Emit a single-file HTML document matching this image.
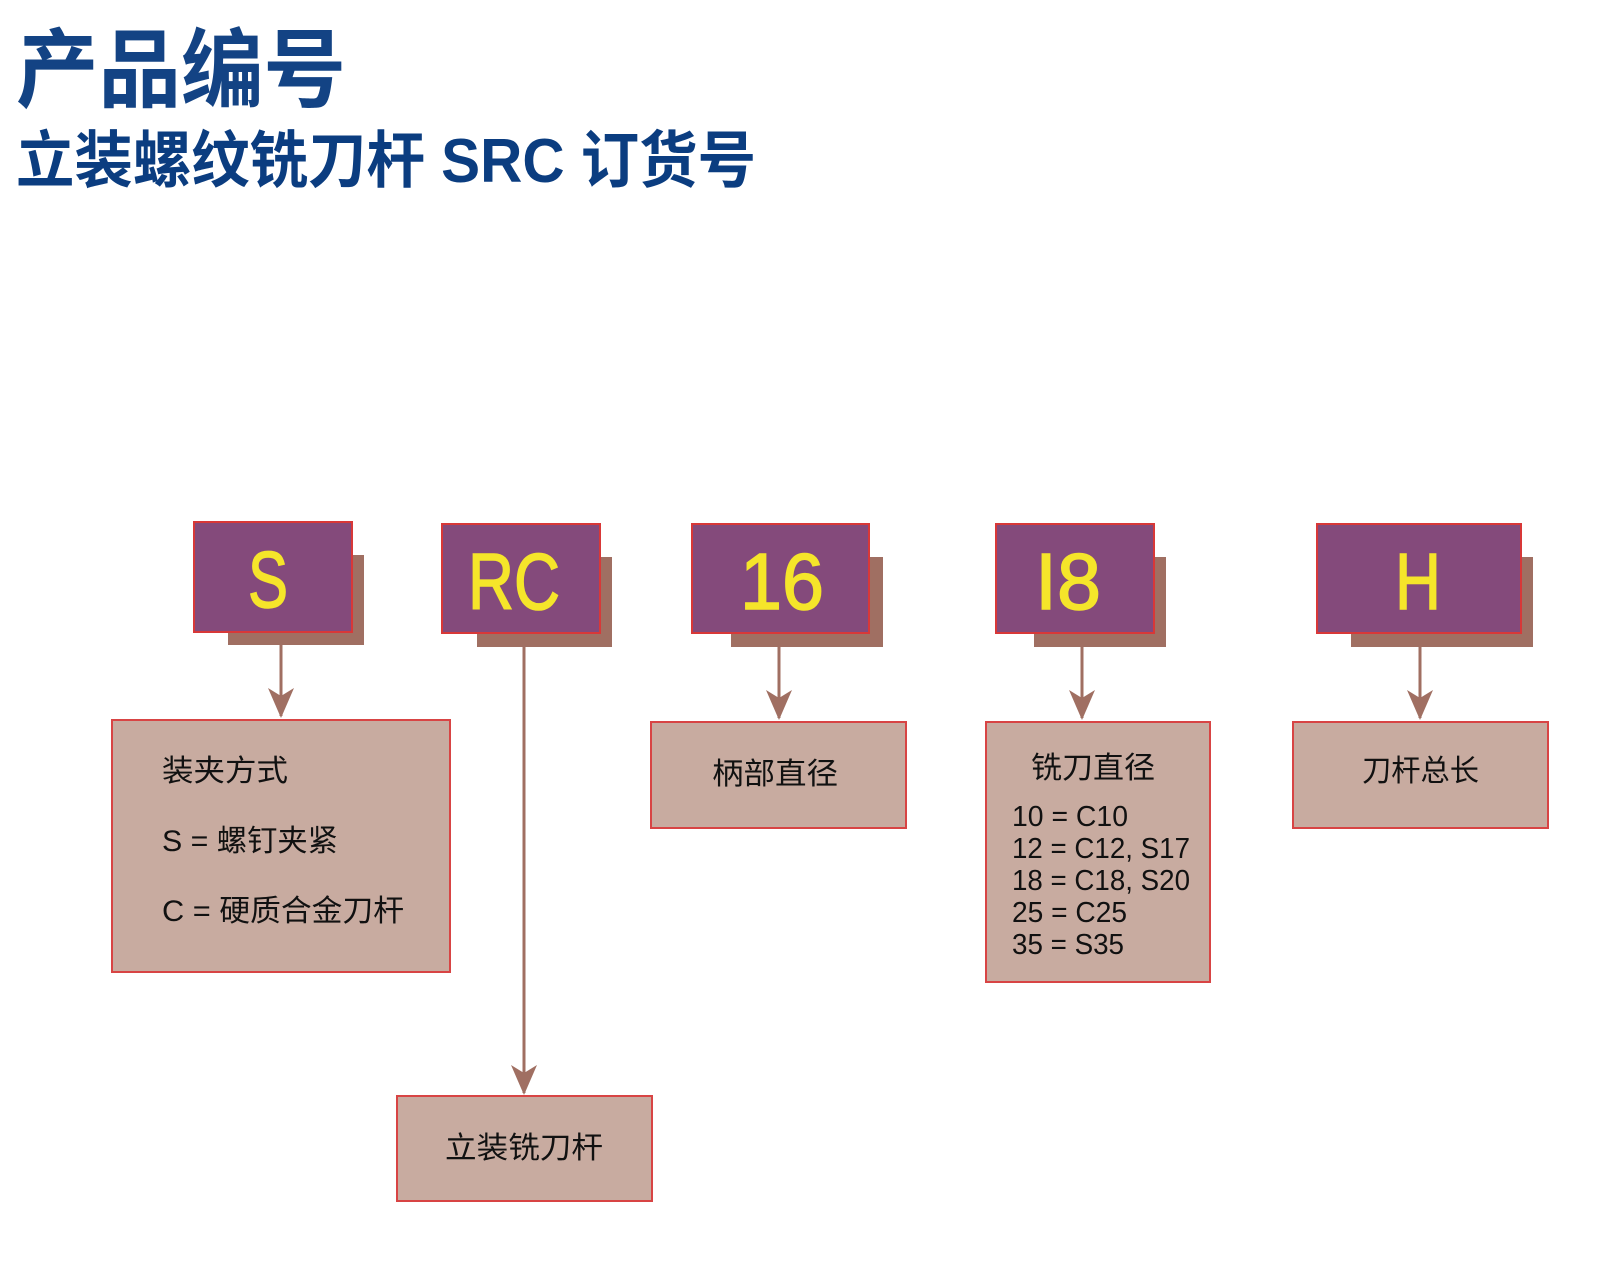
<!DOCTYPE html>
<html><head><meta charset="utf-8"><style>
html,body{margin:0;padding:0;background:#fff;}
svg{display:block;}
</style></head><body>
<svg width="1600" height="1262" viewBox="0 0 1600 1262" xmlns="http://www.w3.org/2000/svg">
<defs>
<marker id="ah" markerWidth="26" markerHeight="30" refX="13" refY="28" orient="0" markerUnits="userSpaceOnUse">
<path d="M0,0 L13,8 L26,0 L13,30 Z" fill="#a06f62"/>
</marker>
</defs>
<g fill="#0b3d80" font-weight="bold" font-family="Liberation Sans,Noto Sans CJK SC,sans-serif">
<text x="16" y="100" font-size="86" textLength="330" lengthAdjust="spacingAndGlyphs" fill-opacity="0.97">产品编号</text>
<text x="16" y="182" font-size="62" textLength="740" lengthAdjust="spacingAndGlyphs">立装螺纹铣刀杆 SRC 订货号</text>
</g>
<g fill="#a06f62">
<rect x="228" y="555" width="136" height="90"/>
<rect x="477" y="557" width="135" height="90"/>
<rect x="731" y="557" width="152" height="90"/>
<rect x="1034" y="557" width="132" height="90"/>
<rect x="1351" y="557" width="182" height="90"/>
</g>
<g fill="#844a7b" stroke="#d83838" stroke-width="2">
<rect x="194" y="522" width="158" height="110"/>
<rect x="442" y="524" width="158" height="109"/>
<rect x="692" y="524" width="177" height="109"/>
<rect x="996" y="524" width="158" height="109"/>
<rect x="1317" y="524" width="204" height="109"/>
</g>
<g fill="#f5e52a" stroke="#f5e52a" stroke-width="1.5" font-size="80" text-anchor="middle" font-family="Liberation Sans,sans-serif">
<text x="268" y="607" textLength="40" lengthAdjust="spacingAndGlyphs">S</text>
<text x="514" y="609" textLength="92" lengthAdjust="spacingAndGlyphs">RC</text>
<text x="782" y="609" textLength="84" lengthAdjust="spacingAndGlyphs">16</text>
<text x="1068" y="609" textLength="66" lengthAdjust="spacingAndGlyphs">I8</text>
<text x="1418" y="609" textLength="46" lengthAdjust="spacingAndGlyphs">H</text>
</g>
<g stroke="#a06f62" stroke-width="3" fill="none">
<line x1="281" y1="645" x2="281" y2="716" marker-end="url(#ah)"/>
<line x1="524" y1="647" x2="524" y2="1093" marker-end="url(#ah)"/>
<line x1="779" y1="647" x2="779" y2="718" marker-end="url(#ah)"/>
<line x1="1082" y1="647" x2="1082" y2="718" marker-end="url(#ah)"/>
<line x1="1420" y1="647" x2="1420" y2="718" marker-end="url(#ah)"/>
</g>
<g fill="#c8aba0" stroke="#d84444" stroke-width="2">
<rect x="112" y="720" width="338" height="252"/>
<rect x="397" y="1096" width="255" height="105"/>
<rect x="651" y="722" width="255" height="106"/>
<rect x="986" y="722" width="224" height="260"/>
<rect x="1293" y="722" width="255" height="106"/>
</g>
<g fill="#111" font-size="30" font-family="Liberation Sans,Noto Sans CJK SC,sans-serif">
<text x="162" y="781" textLength="126" lengthAdjust="spacingAndGlyphs">装夹方式</text>
<text x="162" y="851" textLength="176" lengthAdjust="spacingAndGlyphs">S = 螺钉夹紧</text>
<text x="162" y="921" textLength="242" lengthAdjust="spacingAndGlyphs">C = 硬质合金刀杆</text>
<text x="445" y="1158" textLength="158" lengthAdjust="spacingAndGlyphs">立装铣刀杆</text>
<text x="712" y="784" textLength="126" lengthAdjust="spacingAndGlyphs">柄部直径</text>
<text x="1031" y="778" textLength="124" lengthAdjust="spacingAndGlyphs">铣刀直径</text>
<text x="1362" y="781" textLength="117" lengthAdjust="spacingAndGlyphs">刀杆总长</text>
</g>
<g fill="#111" font-size="29" font-family="Liberation Sans,sans-serif">
<text x="1012" y="826" textLength="116" lengthAdjust="spacingAndGlyphs">10 = C10</text>
<text x="1012" y="858" textLength="178" lengthAdjust="spacingAndGlyphs">12 = C12, S17</text>
<text x="1012" y="890" textLength="178" lengthAdjust="spacingAndGlyphs">18 = C18, S20</text>
<text x="1012" y="922" textLength="115" lengthAdjust="spacingAndGlyphs">25 = C25</text>
<text x="1012" y="954" textLength="112" lengthAdjust="spacingAndGlyphs">35 = S35</text>
</g>
</svg>
</body></html>
